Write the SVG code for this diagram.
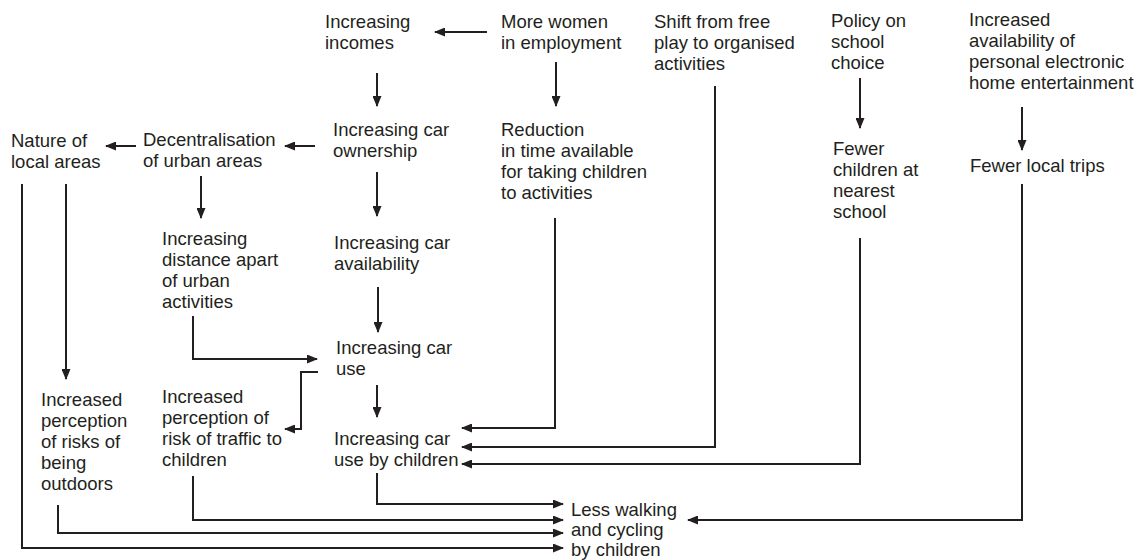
<svg xmlns="http://www.w3.org/2000/svg" width="1140" height="560" viewBox="0 0 1140 560">
<defs>
<marker id="ah" markerUnits="userSpaceOnUse" markerWidth="11" markerHeight="9" refX="10" refY="4.5" orient="auto">
<path d="M0,0 L11,4.5 L0,9 Z" fill="#231f20"/>
</marker>
<style>
text{font-family:"Liberation Sans",Arial,sans-serif;font-size:18.5px;fill:#231f20}
.c path{fill:none;stroke:#231f20;stroke-width:2;marker-end:url(#ah)}
</style>
</defs>
<rect width="1140" height="560" fill="#ffffff"/>
<g id="incomes"><text x="325" y="28">Increasing<tspan x="325" dy="21">incomes</tspan></text></g>
<g id="women"><text x="501" y="28">More women<tspan x="501" dy="21">in employment</tspan></text></g>
<g id="shift"><text x="654" y="28">Shift from free<tspan x="654" dy="21">play to organised</tspan><tspan x="654" dy="21">activities</tspan></text></g>
<g id="policy"><text x="831" y="27">Policy on<tspan x="831" dy="21">school</tspan><tspan x="831" dy="21">choice</tspan></text></g>
<g id="electronic"><text x="969" y="26">Increased<tspan x="969" dy="21">availability of</tspan><tspan x="969" dy="21">personal electronic</tspan><tspan x="969" dy="21">home entertainment</tspan></text></g>
<g id="nature"><text x="11" y="147">Nature of<tspan x="11" dy="21">local areas</tspan></text></g>
<g id="decentral"><text x="143" y="146">Decentralisation<tspan x="143" dy="21">of urban areas</tspan></text></g>
<g id="ownership"><text x="333" y="136">Increasing car<tspan x="333" dy="21">ownership</tspan></text></g>
<g id="reduction"><text x="501" y="136">Reduction<tspan x="501" dy="21">in time available</tspan><tspan x="501" dy="21">for taking children</tspan><tspan x="501" dy="21">to activities</tspan></text></g>
<g id="fewerchildren"><text x="833" y="155">Fewer<tspan x="833" dy="21">children at</tspan><tspan x="833" dy="21">nearest</tspan><tspan x="833" dy="21">school</tspan></text></g>
<g id="fewertrips"><text x="970" y="172">Fewer local trips</text></g>
<g id="distance"><text x="162" y="245">Increasing<tspan x="162" dy="21">distance apart</tspan><tspan x="162" dy="21">of urban</tspan><tspan x="162" dy="21">activities</tspan></text></g>
<g id="availability"><text x="334" y="249">Increasing car<tspan x="334" dy="21">availability</tspan></text></g>
<g id="caruse"><text x="336" y="354">Increasing car<tspan x="336" dy="21">use</tspan></text></g>
<g id="outdoors"><text x="41" y="406">Increased<tspan x="41" dy="21">perception</tspan><tspan x="41" dy="21">of risks of</tspan><tspan x="41" dy="21">being</tspan><tspan x="41" dy="21">outdoors</tspan></text></g>
<g id="traffic"><text x="162" y="403">Increased<tspan x="162" dy="21">perception of</tspan><tspan x="162" dy="21">risk of traffic to</tspan><tspan x="162" dy="21">children</tspan></text></g>
<g id="childuse"><text x="334" y="445">Increasing car<tspan x="334" dy="21">use by children</tspan></text></g>
<g id="walking"><text x="571" y="516">Less walking<tspan x="571" dy="20">and cycling</tspan><tspan x="571" dy="19.5">by children</tspan></text></g>
<g id="connectors" class="c">
<path d="M487,32 H435"/>
<path d="M377,73 V106"/>
<path d="M556,62 V106"/>
<path d="M315,146 H285"/>
<path d="M136,146 H106"/>
<path d="M860,78 V128"/>
<path d="M1022,107 V150"/>
<path d="M377,172 V216"/>
<path d="M201,176 V218"/>
<path d="M66,184 V379"/>
<path d="M22,184 V548 H563"/>
<path d="M193,316 V359 H317"/>
<path d="M378,287 V332"/>
<path d="M318,372 H301 V429 H285"/>
<path d="M377,385 V417"/>
<path d="M555,218 V428 H462"/>
<path d="M715,86 V447 H462"/>
<path d="M860,238 V464 H462"/>
<path d="M1022,184 V520 H688"/>
<path d="M377,473 V504 H563"/>
<path d="M193,476 V520 H563"/>
<path d="M58,505 V533 H563"/>
</g>
</svg>
